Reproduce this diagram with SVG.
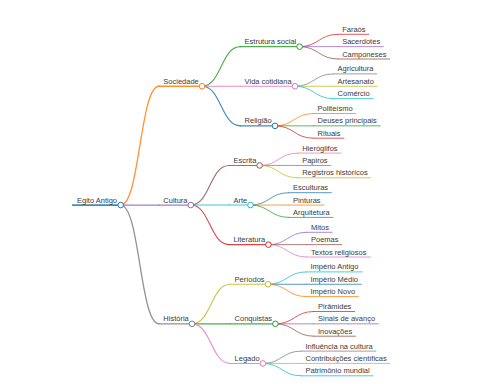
<svg xmlns="http://www.w3.org/2000/svg" width="480" height="384" viewBox="0 0 480 384">
<style>
path,line{fill:none;stroke-linecap:round;stroke-opacity:0.85}
circle{fill:#fff;stroke-width:1}
text{font-family:"Liberation Sans",Arial,sans-serif;font-size:7.5px;fill:#3a3a3a}
.w0{stroke-width:1.8}
.w1{stroke-width:1.3}
.w2{stroke-width:1.1}
.w3{stroke-width:0.9}
.b{stroke:#1f77b4}.o{stroke:#ff7f0e}.g{stroke:#2ca02c}.r{stroke:#d62728}.p{stroke:#9467bd}
.n{stroke:#8c564b}.k{stroke:#e377c2}.y{stroke:#7f7f7f}.l{stroke:#bcbd22}.c{stroke:#17becf}
</style>
<rect width="480" height="384" fill="#fff"/>
<g id="connectors">
<path class="o w1" d="M120.7,205.05C139.85,205.05 139.85,86.25 159,86.25"/>
<path class="p w1" d="M120.7,205.05L159,205.05"/>
<path class="y w1" d="M120.7,205.05C139.85,205.05 139.85,323.85 159,323.85"/>
<path class="g w2" d="M202,86.25C221.15,86.25 221.15,46.65 240.3,46.65"/>
<path class="k w2" d="M202,86.25L240.3,86.25"/>
<path class="b w2" d="M202,86.25C221.15,86.25 221.15,125.85 240.3,125.85"/>
<path class="n w2" d="M190.8,205.05C209.95,205.05 209.95,165.45 229.1,165.45"/>
<path class="c w2" d="M190.8,205.05L229.1,205.05"/>
<path class="r w2" d="M190.8,205.05C209.95,205.05 209.95,244.65 229.1,244.65"/>
<path class="l w2" d="M192,323.85C211.15,323.85 211.15,284.25 230.3,284.25"/>
<path class="g w2" d="M192,323.85L230.3,323.85"/>
<path class="k w2" d="M192,323.85C211.15,323.85 211.15,363.45 230.3,363.45"/>
<path class="r w3" d="M299.6,46.65C318.75,46.65 318.75,34.3 337.9,34.3"/>
<path class="p w3" d="M299.6,46.65L337.9,46.65"/>
<path class="n w3" d="M299.6,46.65C318.75,46.65 318.75,59 337.9,59"/>
<path class="y w3" d="M295,86.25C314.15,86.25 314.15,73.9 333.3,73.9"/>
<path class="l w3" d="M295,86.25L333.3,86.25"/>
<path class="c w3" d="M295,86.25C314.15,86.25 314.15,98.6 333.3,98.6"/>
<path class="o w3" d="M275,125.85C294.15,125.85 294.15,113.5 313.3,113.5"/>
<path class="g w3" d="M275,125.85L313.3,125.85"/>
<path class="r w3" d="M275,125.85C294.15,125.85 294.15,138.2 313.3,138.2"/>
<path class="k w3" d="M259.6,165.45C278.75,165.45 278.75,153.1 297.9,153.1"/>
<path class="y w3" d="M259.6,165.45L297.9,165.45"/>
<path class="l w3" d="M259.6,165.45C278.75,165.45 278.75,177.8 297.9,177.8"/>
<path class="b w3" d="M250.5,205.05C269.65,205.05 269.65,192.7 288.8,192.7"/>
<path class="o w3" d="M250.5,205.05L288.8,205.05"/>
<path class="g w3" d="M250.5,205.05C269.65,205.05 269.65,217.4 288.8,217.4"/>
<path class="p w3" d="M268.4,244.65C287.55,244.65 287.55,232.3 306.7,232.3"/>
<path class="n w3" d="M268.4,244.65L306.7,244.65"/>
<path class="k w3" d="M268.4,244.65C287.55,244.65 287.55,257 306.7,257"/>
<path class="c w3" d="M267.9,284.25C287.05,284.25 287.05,271.9 306.2,271.9"/>
<path class="b w3" d="M267.9,284.25L306.2,284.25"/>
<path class="o w3" d="M267.9,284.25C287.05,284.25 287.05,296.6 306.2,296.6"/>
<path class="r w3" d="M275.4,323.85C294.55,323.85 294.55,311.5 313.7,311.5"/>
<path class="p w3" d="M275.4,323.85L313.7,323.85"/>
<path class="n w3" d="M275.4,323.85C294.55,323.85 294.55,336.2 313.7,336.2"/>
<path class="y w3" d="M262.9,363.45C282.05,363.45 282.05,351.1 301.2,351.1"/>
<path class="l w3" d="M262.9,363.45L301.2,363.45"/>
<path class="c w3" d="M262.9,363.45C282.05,363.45 282.05,375.8 301.2,375.8"/>
</g>
<g id="n-root"><line class="b w0" x1="72.7" y1="205.05" x2="120.7" y2="205.05"/><circle class="b" cx="120.7" cy="205.05" r="2.8"/><text x="77" y="202.5">Egito Antigo</text></g>
<g id="n-sociedade"><line class="o w1" x1="159" y1="86.25" x2="202" y2="86.25"/><circle class="o" cx="202" cy="86.25" r="2.8"/><text x="163.3" y="83.75">Sociedade</text></g>
<g id="n-cultura"><line class="p w1" x1="159" y1="205.05" x2="190.8" y2="205.05"/><circle class="p" cx="190.8" cy="205.05" r="2.8"/><text x="163.3" y="202.55">Cultura</text></g>
<g id="n-historia"><line class="y w1" x1="159" y1="323.85" x2="192" y2="323.85"/><circle class="y" cx="192" cy="323.85" r="2.8"/><text x="163.3" y="321.35">História</text></g>
<g id="n-estrutura"><line class="g w2" x1="240.3" y1="46.65" x2="299.6" y2="46.65"/><circle class="g" cx="299.6" cy="46.65" r="2.8"/><text x="244.6" y="44.15">Estrutura social</text></g>
<g id="n-vida"><line class="k w2" x1="240.3" y1="86.25" x2="295" y2="86.25"/><circle class="k" cx="295" cy="86.25" r="2.8"/><text x="244.6" y="83.75">Vida cotidiana</text></g>
<g id="n-religiao"><line class="b w2" x1="240.3" y1="125.85" x2="275" y2="125.85"/><circle class="b" cx="275" cy="125.85" r="2.8"/><text x="244.6" y="123.35">Religião</text></g>
<g id="n-escrita"><line class="n w2" x1="229.1" y1="165.45" x2="259.6" y2="165.45"/><circle class="n" cx="259.6" cy="165.45" r="2.8"/><text x="233.4" y="162.95">Escrita</text></g>
<g id="n-arte"><line class="c w2" x1="229.1" y1="205.05" x2="250.5" y2="205.05"/><circle class="c" cx="250.5" cy="205.05" r="2.8"/><text x="233.4" y="202.55">Arte</text></g>
<g id="n-literatura"><line class="r w2" x1="229.1" y1="244.65" x2="268.4" y2="244.65"/><circle class="r" cx="268.4" cy="244.65" r="2.8"/><text x="233.4" y="242.15">Literatura</text></g>
<g id="n-periodos"><line class="l w2" x1="230.3" y1="284.25" x2="267.9" y2="284.25"/><circle class="l" cx="267.9" cy="284.25" r="2.8"/><text x="234.6" y="281.75">Períodos</text></g>
<g id="n-conquistas"><line class="g w2" x1="230.3" y1="323.85" x2="275.4" y2="323.85"/><circle class="g" cx="275.4" cy="323.85" r="2.8"/><text x="234.6" y="321.35">Conquistas</text></g>
<g id="n-legado"><line class="k w2" x1="230.3" y1="363.45" x2="262.9" y2="363.45"/><circle class="k" cx="262.9" cy="363.45" r="2.8"/><text x="234.6" y="360.95">Legado</text></g>
<g id="n-faraos"><line class="r w3" x1="337.9" y1="34.3" x2="368.8" y2="34.3"/><text x="342.2" y="31.8">Faraós</text></g>
<g id="n-sacerdotes"><line class="p w3" x1="337.9" y1="46.65" x2="383.4" y2="46.65"/><text x="342.2" y="44.15">Sacerdotes</text></g>
<g id="n-camponeses"><line class="n w3" x1="337.9" y1="59" x2="389.7" y2="59"/><text x="342.2" y="56.5">Camponeses</text></g>
<g id="n-agricultura"><line class="y w3" x1="333.3" y1="73.9" x2="376.7" y2="73.9"/><text x="337.6" y="71.4">Agricultura</text></g>
<g id="n-artesanato"><line class="l w3" x1="333.3" y1="86.25" x2="377.2" y2="86.25"/><text x="337.6" y="83.75">Artesanato</text></g>
<g id="n-comercio"><line class="c w3" x1="333.3" y1="98.6" x2="373" y2="98.6"/><text x="337.6" y="96.1">Comércio</text></g>
<g id="n-politeismo"><line class="o w3" x1="313.3" y1="113.5" x2="355.9" y2="113.5"/><text x="317.6" y="111">Politeísmo</text></g>
<g id="n-deuses"><line class="g w3" x1="313.3" y1="125.85" x2="380.1" y2="125.85"/><text x="317.6" y="123.35">Deuses principais</text></g>
<g id="n-rituais"><line class="r w3" x1="313.3" y1="138.2" x2="343.8" y2="138.2"/><text x="317.6" y="135.7">Rituais</text></g>
<g id="n-hieroglifos"><line class="k w3" x1="297.9" y1="153.1" x2="340.9" y2="153.1"/><text x="302.2" y="150.6">Hieróglifos</text></g>
<g id="n-papiros"><line class="y w3" x1="297.9" y1="165.45" x2="330.9" y2="165.45"/><text x="302.2" y="162.95">Papiros</text></g>
<g id="n-registros"><line class="l w3" x1="297.9" y1="177.8" x2="370.9" y2="177.8"/><text x="302.2" y="175.3">Registros históricos</text></g>
<g id="n-esculturas"><line class="b w3" x1="288.8" y1="192.7" x2="331.4" y2="192.7"/><text x="293.1" y="190.2">Esculturas</text></g>
<g id="n-pinturas"><line class="o w3" x1="288.8" y1="205.05" x2="323.9" y2="205.05"/><text x="293.1" y="202.55">Pinturas</text></g>
<g id="n-arquitetura"><line class="g w3" x1="288.8" y1="217.4" x2="333.1" y2="217.4"/><text x="293.1" y="214.9">Arquitetura</text></g>
<g id="n-mitos"><line class="p w3" x1="306.7" y1="232.3" x2="332.2" y2="232.3"/><text x="311" y="229.8">Mitos</text></g>
<g id="n-poemas"><line class="n w3" x1="306.7" y1="244.65" x2="341.8" y2="244.65"/><text x="311" y="242.15">Poemas</text></g>
<g id="n-textos"><line class="k w3" x1="306.7" y1="257" x2="370.6" y2="257"/><text x="311" y="254.5">Textos religiosos</text></g>
<g id="n-antigo"><line class="c w3" x1="306.2" y1="271.9" x2="362.2" y2="271.9"/><text x="310.5" y="269.4">Império Antigo</text></g>
<g id="n-medio"><line class="b w3" x1="306.2" y1="284.25" x2="361.3" y2="284.25"/><text x="310.5" y="281.75">Império Médio</text></g>
<g id="n-novo"><line class="o w3" x1="306.2" y1="296.6" x2="358.4" y2="296.6"/><text x="310.5" y="294.1">Império Novo</text></g>
<g id="n-piramides"><line class="r w3" x1="313.7" y1="311.5" x2="354.6" y2="311.5"/><text x="318" y="309">Pirâmides</text></g>
<g id="n-sinais"><line class="p w3" x1="313.7" y1="323.85" x2="378.4" y2="323.85"/><text x="318" y="321.35">Sinais de avanço</text></g>
<g id="n-inovacoes"><line class="n w3" x1="313.7" y1="336.2" x2="355.5" y2="336.2"/><text x="318" y="333.7">Inovações</text></g>
<g id="n-influencia"><line class="y w3" x1="301.2" y1="351.1" x2="375.9" y2="351.1"/><text x="305.5" y="348.6">Influência na cultura</text></g>
<g id="n-contribuicoes"><line class="l w3" x1="301.2" y1="363.45" x2="390.1" y2="363.45"/><text x="305.5" y="360.95">Contribuições científicas</text></g>
<g id="n-patrimonio"><line class="c w3" x1="301.2" y1="375.8" x2="373" y2="375.8"/><text x="305.5" y="373.3">Patrimônio mundial</text></g>
</svg>
